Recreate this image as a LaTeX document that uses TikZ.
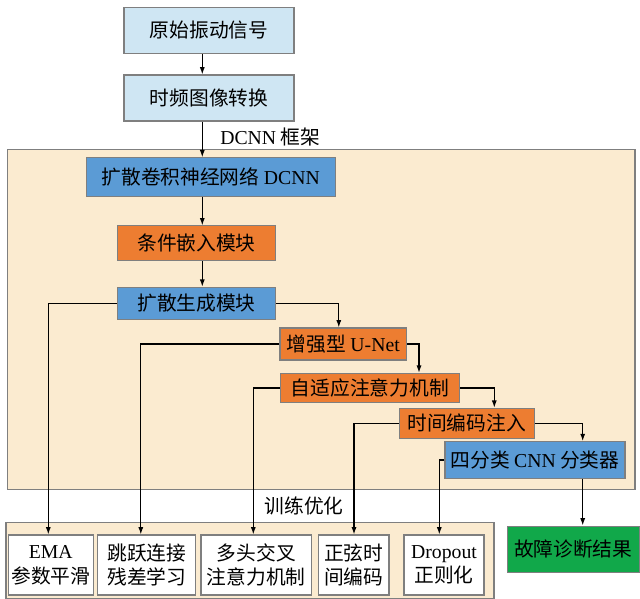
\documentclass[tikz,border=0pt]{standalone}
\usepackage{fontspec}
\setmainfont{Liberation Serif}
\newfontfamily\cjk{Noto Sans CJK SC}
\usetikzlibrary{positioning,arrows.meta}

\definecolor{lblue}{HTML}{CFE6F3}
\definecolor{dblue}{HTML}{5B9BD5}
\definecolor{orng}{HTML}{ED7D31}
\definecolor{grn}{HTML}{11A84A}
\definecolor{beige}{HTML}{FBEBD0}
\definecolor{edge}{HTML}{7F7F7F}
\newcommand{\en}[1]{{\rmfamily #1}}

\begin{document}
\begin{tikzpicture}[x=0.75pt,y=-0.75pt,node distance=50.8pt,on grid,
  blk/.style={draw=edge,line width=0.8pt,inner sep=0pt,
    font=\cjk\fontsize{14.8pt}{18.5pt}\selectfont},
  lbox/.style={blk,fill=lblue},
  dbox/.style={blk,fill=dblue},
  obox/.style={blk,fill=orng},
  gbox/.style={blk,fill=grn},
  wbox/.style={blk,fill=white,align=center,minimum height=45pt},
  frm/.style={draw=edge,line width=0.8pt,fill=beige},
  lbl/.style={anchor=west,inner sep=0pt,font=\cjk\fontsize{14.8pt}{18.5pt}\selectfont},
  arr/.style={-{Latex[length=5.5pt,width=3.8pt]},line width=0.9pt}]
\useasboundingbox (0,0) rectangle (640,599);

% frames
\draw[frm] (7.3,149.3) rectangle (635,489.3);
\draw[frm] (6,522.3) rectangle (494,598.3);

% main chain
\node[lbox,minimum width=127.5pt,minimum height=34.5pt] (raw) at (209,30.3) {原始振动信号};
\node[lbox,minimum width=127.5pt,minimum height=34.5pt] (tf) [below =of raw] {时频图像转换};
\node[dbox,minimum width=187pt,minimum height=28.7pt] (dcnn) at (210.7,177) {扩散卷积神经网络 \en{DCNN}};
\node[obox,minimum width=118.5pt,minimum height=26pt] (cond) at (196.5,243.3) {条件嵌入模块};
\node[dbox,minimum width=118.5pt,minimum height=24pt] (gen) at (196.5,303.3) {扩散生成模块};
\node[obox,minimum width=95pt,minimum height=24pt] (unet) at (343.3,344) {增强型 \en{U-Net}};
\node[obox,minimum width=134.6pt,minimum height=22pt] (attn) at (369.8,388) {自适应注意力机制};
\node[obox,minimum width=101.5pt,minimum height=22.5pt] (tenc) at (466.7,423.3) {时间编码注入};
\node[dbox,minimum width=135pt,minimum height=27.5pt] (cls) at (535,460) {四分类 \en{CNN} 分类器};
\node[gbox,minimum width=98.8pt,minimum height=34.7pt] (res) at (573.2,549.2) {故障诊断结果};

% training tricks
\node[wbox,minimum width=63.75pt] (ema) at (50.8,565) {\en{EMA}\\参数平滑};
\node[wbox,minimum width=73.7pt] (skip) at (146.8,565) {跳跃连接\\残差学习};
\node[wbox,minimum width=83pt] (mhca) at (256.3,565) {多头交叉\\注意力机制};
\node[wbox,minimum width=52.9pt] (sine) at (353.7,565) {正弦时\\间编码};
\node[wbox,minimum width=60pt] (drop) at (444,565) {\en{Dropout}\\正则化};

\node[lbl] (fw) at (220,137) {\en{DCNN} 框架};
\node[lbl] (opt) at (264.5,506) {训练优化};

% bus columns
\coordinate (spine) at (202.3,0);
\coordinate (xEma) at (48.3,0);
\coordinate (xSkip) at (140.8,0);
\coordinate (xMhca) at (253.3,0);
\coordinate (xSine) at (354,0);
\coordinate (xDrop) at (439.3,0);
\coordinate (xUnet) at (338.8,0);
\coordinate (xAttn) at (419,0);
\coordinate (xTenc) at (494.3,0);
\coordinate (xCls) at (582.7,0);

\draw[arr] (raw.south -| spine) -- (tf.north -| spine);
\draw[arr] (tf.south -| spine) -- (dcnn.north -| spine);
\draw[arr] (dcnn.south -| spine) -- (cond.north -| spine);
\draw[arr] (cond.south -| spine) -- (gen.north -| spine);
\draw[arr] (gen.east) -| (unet.north -| xUnet);
\draw[arr] (unet.east) -| (attn.north -| xAttn);
\draw[arr] (attn.east) -| (tenc.north -| xTenc);
\draw[arr] (tenc.east) -| (cls.north -| xCls);
\draw[arr] (cls.south -| xCls) -- (res.north -| xCls);

\draw[arr] (gen.west) -| (ema.north -| xEma);
\draw[arr] (unet.west) -| (skip.north -| xSkip);
\draw[arr] (attn.west) -| (mhca.north -| xMhca);
\draw[arr] (tenc.west) -| (sine.north -| xSine);
\draw[arr] (cls.west) -| (drop.north -| xDrop);
\end{tikzpicture}
\end{document}
